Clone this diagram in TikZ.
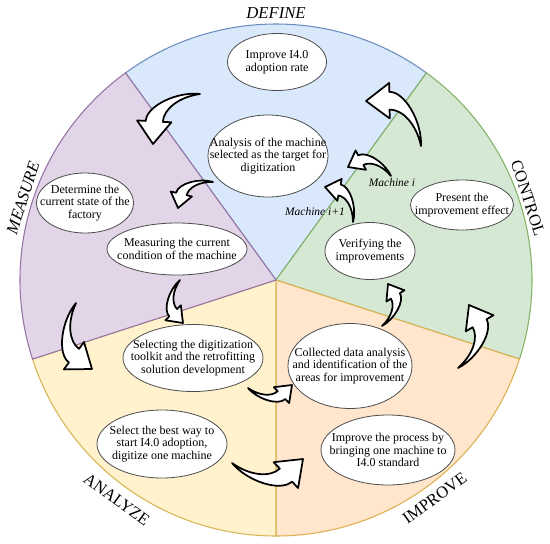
\documentclass[tikz,border=0pt]{standalone}
\usepackage{fontspec}
\setmainfont{Liberation Serif}
\usetikzlibrary{shapes.geometric,calc}

\definecolor{defFill}{HTML}{DAE8FC}
\definecolor{defLine}{HTML}{6C8EBF}
\definecolor{conFill}{HTML}{D5E8D4}
\definecolor{conLine}{HTML}{82B366}
\definecolor{impFill}{HTML}{FFE6CC}
\definecolor{impLine}{HTML}{E0B050}
\definecolor{anaFill}{HTML}{FFF2CC}
\definecolor{anaLine}{HTML}{D6B656}
\definecolor{meaFill}{HTML}{E1D5E7}
\definecolor{meaLine}{HTML}{9673A6}
\definecolor{ellLine}{HTML}{4D4D4D}

% curved block arrow from tail #1 to tip #2, bulging outwards
\newcommand{\bendarrow}[2]{%
  \draw[blockarrow] (#1)
    .. controls ($(#1)!0.336!53.5:(#2)$) and ($(#1)!0.797!34.3:(#2)$) .. ($(#1)!0.883!20.4:(#2)$)
    -- ($(#1)!0.994!24.0:(#2)$) -- (#2) -- ($(#1)!0.586!2.1:(#2)$) -- ($(#1)!0.677!9.9:(#2)$)
    .. controls ($(#1)!0.578!23.7:(#2)$) and ($(#1)!0.320!38.7:(#2)$) .. cycle;}

\tikzset{
  stepell/.style 2 args={ellipse, draw=ellLine, fill=white, line width=0.6pt, inner sep=0pt,
    minimum width=#1*0.75pt, minimum height=#2*0.75pt},
  steptext/.style={align=center, inner sep=0pt, text=black, font=\fontsize{9}{9.6}\selectfont},
  phase/.style={inner sep=0pt, text=black, font=\fontsize{12.5}{13}\selectfont},
  machlabel/.style={inner sep=0pt, text=black, font=\fontsize{8.6}{9}\selectfont\itshape},
  blockarrow/.style={draw=black, fill=white, line width=1.3pt, line join=round},
  sector/.style={line width=0.8pt}
}

\begin{document}
\begin{tikzpicture}[x=0.75pt,y=0.75pt,yscale=-1,xscale=1]
\useasboundingbox (0,0) rectangle (550,543);
\coordinate (ctr) at (276,280);

% sectors
\filldraw[sector, fill=defFill, draw=defLine] (ctr) -- ++(-54:256) arc[start angle=-54, end angle=-126, radius=256] -- cycle;
\filldraw[sector, fill=conFill, draw=conLine] (ctr) -- ++(18:256) arc[start angle=18, end angle=-54, radius=256] -- cycle;
\filldraw[sector, fill=impFill, draw=impLine] (ctr) -- ++(90:256) arc[start angle=90, end angle=18, radius=256] -- cycle;
\filldraw[sector, fill=anaFill, draw=anaLine] (ctr) -- ++(162:256) arc[start angle=162, end angle=90, radius=256] -- cycle;
\filldraw[sector, fill=meaFill, draw=meaLine] (ctr) -- ++(234:256) arc[start angle=234, end angle=162, radius=256] -- cycle;

% phase names
\node[phase] (define) at ($(ctr)+(-90:267)$) {\itshape DEFINE};
\node[phase, rotate=-72] (control) at ($(ctr)+(-18:265)$) {CONTROL};
\node[phase, rotate=36] (improve) at ($(ctr)+(54:270)$) {IMPROVE};
\node[phase, rotate=-36] (analyze) at ($(ctr)+(126:271)$) {ANALYZE};
\node[phase, rotate=72] (measure) at ($(ctr)+(198:266)$) {\itshape MEASURE};

% arrows
\foreach \n/\tx/\ty/\hx/\hy in {1/200/94/153/144, 2/213/182/178/208, 3/180/280/183/323,
    4/76/303/92/369, 5/248/388/292/385, 6/232/463/303/459, 7/382/326/388/284,
    8/458/368/469/305, 9/353/222/325/187, 10/391/176/348/167, 11/421/146/366/101}{
  \coordinate (tail\n) at (\tx,\ty);
  \coordinate (tip\n) at (\hx,\hy);
  \bendarrow{tail\n}{tip\n}
}

% steps
\node[stepell={99}{57}, label={[steptext]center:{Improve I4.0\\adoption rate}}] (rate) at (277,62) {};
\node[stepell={120}{82}, label={[steptext]center:{Analysis of the machine\\selected as the target for\\digitization}}] (target) at (268,156) {};
\node[stepell={97}{60}, label={[steptext]center:{Determine the\\current state of the\\factory}}] (factory) at (85,203) {};
\node[stepell={140}{52}, label={[steptext]center:{Measuring the current\\condition of the machine}}] (condition) at (177,249) {};
\node[stepell={140}{67}, label={[steptext]center:{Selecting the digitization\\toolkit and the retrofitting\\solution development}}] (toolkit) at (193,358) {};
\node[stepell={130}{68}, label={[steptext]center:{Select the best way to\\start I4.0 adoption,\\digitize one machine}}] (bestway) at (162,444) {};
\node[stepell={124}{85}, label={[steptext]center:{Collected data analysis\\and identification of the\\areas for improvement}}] (areas) at (350,366) {};
\node[stepell={134}{70}, label={[steptext]center:{Improve the process by\\bringing one machine to\\I4.0 standard}}] (process) at (388,450) {};
\node[stepell={90}{57}, label={[steptext]center:{Verifying the\\improvements}}] (verify) at (370,251) {};
\node[stepell={103}{50}, label={[steptext]center:{Present the\\improvement effect}}] (effect) at (462,205) {};

\node[machlabel] (machi) at (392,183) {Machine i};
\node[machlabel] (machnext) at (315,212) {Machine i+1};
\end{tikzpicture}
\end{document}
